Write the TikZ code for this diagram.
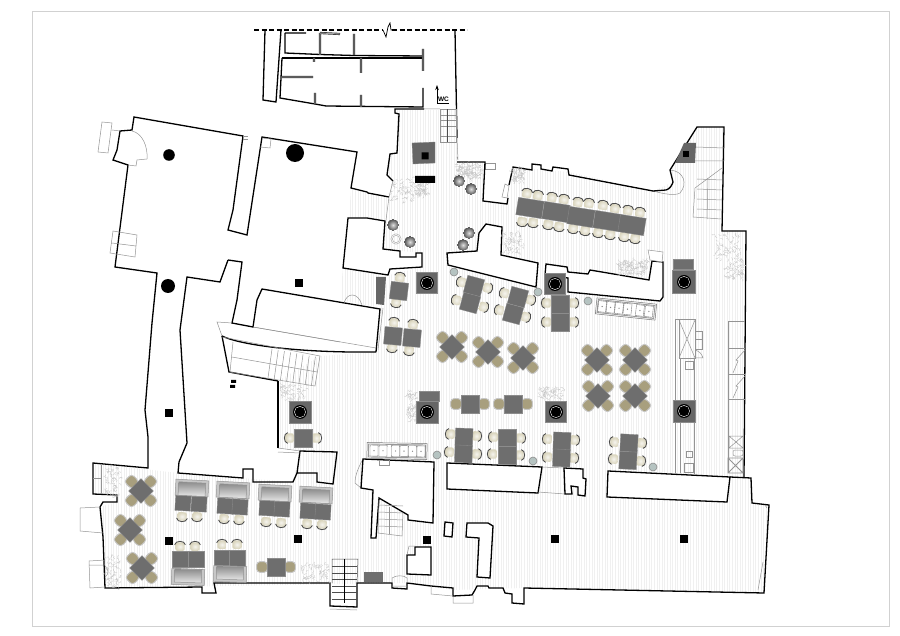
\documentclass[tikz,border=0pt]{standalone}
\usepackage{fontspec}
\setsansfont{Liberation Sans}
\usepackage{tikz}
\usetikzlibrary{arrows.meta,shadings}
\definecolor{tabledark}{HTML}{6E6E6E}
\definecolor{pillardark}{HTML}{666666}
\definecolor{tanseat}{HTML}{A89F7E}
\definecolor{creamseat}{HTML}{D9D4BC}
\definecolor{tealball}{HTML}{B5C3C1}
\tikzset{
  wall/.style={line width=1.3pt,line join=miter},
  roomwall/.style={wall,fill=white},
  thin gray/.style={line width=.5pt,draw=black!42},
  partition/.style={line width=2.2pt,draw=black!80},
  partition core/.style={line width=.9pt,draw=black!35},
  tablebox/.style={draw=black!45,line width=.3pt,fill=tabledark,inner sep=0pt,minimum width=#1,minimum height=#1},
  tablebox/.default=17,
  creamchair/.pic={
    \shade[inner color=creamseat!25!white,outer color=creamseat,rounded corners=2pt] (-4.7,-3.7) rectangle (4.7,4.8);
    \draw[line width=.85pt,draw=black!70] (-5.4,-1.2) .. controls (-4.7,-5.8) and (4.7,-5.8) .. (5.4,-1.2);
  },
  tanchair/.pic={
    \fill[tanseat,draw=black!22,line width=.9pt,rounded corners=3.5pt] (-5.4,-5.4) rectangle (5.4,5.4);
  },
  crosstable/.pic={
    \foreach \a in {45,135,225,315}
      \pic[rotate=\a] at (\a:13.4) {tanchair};
    \fill[tabledark,draw=black!45,line width=.3pt,rotate=45] (-8.7,-8.7) rectangle (8.7,8.7);
  },
  sofa/.pic={
    \draw[thin gray,fill=black!22] (-16.5,-8) rectangle (16.5,8);
    \shade[top color=black!45,bottom color=black!10] (-13.5,-5.5) rectangle (13.5,7.5);
    \draw[thin gray] (-13.5,-5.5) rectangle (13.5,8);
  },
  pillar/.pic={
    \fill[pillardark,draw=black!45,line width=.3pt] (-#1,-#1) rectangle (#1,#1);
    \fill[black] (0,0) circle (7);
    \draw[white,line width=.4pt] (0,0) circle (5.6);
    \fill[black,rounded corners=1pt] (-4,-4) rectangle (4,4);
  },
  pillar/.default=10.5,
  barcounter/.pic={
    \draw[line width=.5pt,draw=black!55,fill=white] (-30,-8) rectangle (30,8);
    \draw[line width=.9pt,draw=black!40] (-28.5,-6.5) rectangle (28.5,6.5);
    \foreach \c in {-24,-15.5,-7,1.5,14,23}{
      \draw[line width=.35pt,draw=black!55] (\c-4,-5.5) rectangle (\c+4,5.5);
      \fill[black!50] (\c,0) circle (.7);
    }
  }
}
\newcommand{\plantpatch}[4]{%
  \foreach \i in {1,...,70}{
    \pgfmathsetmacro{\px}{#1+rand*#3/2}
    \pgfmathsetmacro{\py}{#2+rand*#4/2}
    \pgfmathsetmacro{\pa}{rnd*360}
    \draw[line width=.25pt,black!24] (\px,\py) -- ++(\pa:2.2) -- ++(\pa+70:1.4);
  }
}
\begin{document}
\begin{tikzpicture}[x=1pt,y=-1pt]
  \useasboundingbox (0,0) rectangle (900,636);
  \pgfmathsetseed{7}
  \draw[line width=.4pt,black!18] (32,11) rectangle (889,626);
  % Floor hatching
  \begin{scope}
    \clip (395,110) -- (457,110) -- (457,162) -- (485,162) -- (483,201) -- (507,204) -- (513,167)
      -- (569,172) -- (653,191) -- (673,182) -- (670,170) -- (697,127) -- (724,127) -- (722,231)
      -- (746,231) -- (744,477) -- (752,478) -- (752,503) -- (769,505) -- (764,593) -- (524,588)
      -- (453,590) -- (407,583) -- (105,588) -- (103,537) -- (100,507) -- (117,502) -- (117,495)
      -- (93,494) -- (93,463) -- (178,473) -- (293,482) -- (300,451) -- (278,448) -- (278,381)
      -- (320,356) -- (376,352) -- (380,309) -- (389,275) -- (422,267) -- (422,253) -- (383,249)
      -- (386,220) -- (393,181) -- (387,175) -- (390,154) -- (397,153) -- cycle
      (351,189) -- (389,197) -- (386,220) -- (349,218) -- cycle
      (343,268) -- (380,274) -- (376,307) -- (340,300) -- cycle;
    \foreach \x in {90,92.6,...,772}
      \draw[line width=.3pt,black!6] (\x,100) -- (\x,610);
  \end{scope}
  % Top block with the WC
  \draw[wall,dashed,dash pattern=on 5pt off 2.5pt] (254,30) -- (383,30) (392,30) -- (467,30);
  \draw[line width=.7pt] (383,30) -- (386,37) -- (388,27) -- (390,23) -- (391,30) -- (392,30);
  \draw[wall] (265,30) -- (263,100) -- (276,102) -- (281,30);
  \draw[wall] (455,30) -- (457,138);
  \draw[wall] (285,33) -- (306,33) (285,33) -- (285,53) -- (320,54.5) -- (354,55.5) -- (423,56);
  \draw[wall] (282,58) -- (423,58);
  \draw[wall] (282,58) -- (280,98) -- (315,104) -- (326,106) -- (423,107) -- (423,88);
  \foreach \linepath in {partition,partition core}
    \draw[\linepath] (320,33) -- (320,55) (320,33) -- (340,34) (354,34) -- (354,55)
      (423,49) -- (423,71) (361,58) -- (361,73) (282,77) -- (313,77)
      (361,95) -- (361,107) (315,93) -- (315,104) (314,58) -- (314,62);
  \draw[-{Stealth[length=5pt,width=3.5pt]},line width=.7pt] (437,96) -- (437,85);
  \draw[line width=.5pt] (437,96) -- (437,103) -- (449,103);
  \node[font=\sffamily\bfseries\fontsize{6.5}{7}\selectfont,inner sep=0pt] (wc) at (443.5,99) {WC};
  % Stair up to the WC
  \draw[thin gray] (440,109) rectangle (456,142);
  \foreach \y in {115,120,126,136}
    \draw[thin gray] (440,\y) -- (456,\y);
  \draw[line width=.5pt,black!70] (447,142) -- (447,109);
  \draw[thin gray] (424,109) -- (440,109) (457,138) -- (458,160) (458,160) -- (457,157);
  % Outer wall, upper right and round to the left rooms
  \draw[wall] (424,109) -- (395,109) -- (395,113) -- (399,114) -- (397,153) -- (390,154) -- (387,175) -- (393,181);
  \draw[thin gray,fill=white] (485,163) rectangle (495,169);
  \draw[thin gray,fill=white] (502,197) -- (505,184) -- (509,186) -- (507,198) -- cycle;
  \draw[wall] (457,162) -- (485,162) -- (483,201) -- (507,204) -- (508,198);
  \draw[thin gray] (670,170) .. controls (684,171) and (688,184) .. (680,193) .. controls (675,196) and (664,194) .. (653,191);
  \draw[wall] (509,185) -- (513,167) -- (532,170) -- (532,164) -- (541,165) -- (541,169) -- (552,171) -- (553,167) -- (568,169) -- (569,175) -- (653,191)
    -- (666,190) .. controls (670,189) and (672,185) .. (673,182) -- (670,170) -- (697,127) -- (724,127) -- (722,231) -- (746,231) -- (744,477);
  % Outer wall along the bottom
  \draw[wall] (730,477) -- (751,478) -- (752,503) -- (769,505) -- (764,593) -- (524,588) -- (524,604) -- (512,603) -- (512,594) -- (505,593) -- (503,588)
    -- (489,588) -- (488,586) -- (477,586) -- (475,590) -- (472,595) -- (453,596) -- (453,588) -- (431,586) -- (407,583) -- (407,589) -- (392,588)
    -- (392,583) -- (357,583) -- (357,607) -- (330,606) -- (330,583) -- (214,583) -- (216,593) -- (202,593) -- (202,587) -- (105,588) -- (103,537)
    -- (100,507) -- (103,502) -- (117,502) -- (117,495) -- (93,494) -- (93,463) -- (148,468) -- (148,437) -- (145,410) -- (152,323) -- (157,273)
    -- (115,267) -- (128,165) -- (113,160) -- (117,150) -- (120,131) -- (132,130) -- (134,117) -- (243,136) -- (233,210) -- (228,230) -- (247,235)
    -- (262,137) -- (357,152) -- (351,188) -- (367,192) -- (368,193) -- (389,197);
  \draw[thin gray] (386,220) -- (389,197) -- (393,181);
  \draw[wall] (228,260) -- (242,262) -- (237,300) -- (232,323) -- (253,327) -- (257,300) -- (262,289) -- (380,309) -- (376,352);
  \draw[wall] (228,260) -- (220,282) -- (187,277) -- (180,330) -- (187,443) -- (179,462) -- (178,473) -- (243,478) -- (243,469) -- (253,469) -- (253,482)
    -- (293,482) -- (297,473) -- (300,451) -- (337,452) -- (333,484) -- (317,482) -- (317,473) -- (297,473);
  \draw[wall] (278,381) -- (278,448);
  \draw[thin gray] (278,448) -- (300,451) (278,452) -- (300,453);
  % Gray details on the left rooms
  \draw[thin gray] (102,122) -- (112,123) -- (108,153) -- (98,152) -- cycle (112,130) -- (120,131);
  \draw[thin gray] (132,131) .. controls (142,133) and (148,146) .. (147,159) -- (137,160) -- (136,166) -- (128,165);
  \draw[thin gray] (113,231) -- (137,235) -- (135,257) -- (110,253) -- cycle (112,243) -- (136,246);
  \draw[thin gray] (243,136) -- (248,136) (243,139) -- (248,139);
  \draw[thin gray] (262,138) -- (271,139) -- (270,148) -- (260,147);
  \fill (169,155) circle (5.8) (295,153) circle (9) (168,286) circle (7);
  % Hall with the stair going down
  \draw[thin gray] (222,336) -- (217,322) -- (232,323) (253,327) -- (340,342);
  \draw[thin gray] (253,327) -- (376,348) (383,308) -- (378,350);
  \draw[thin gray] (344,303) .. controls (347,292) and (358,292) .. (362,305);
  \draw[wall] (222,336) .. controls (240,345) and (300,353) .. (376,352);
  \draw[wall] (222,336) -- (229,372) -- (278,381);
  \draw[thin gray] (222,337) -- (320,356) -- (315,386) -- (229,372);
  \draw[thin gray] (233,342) -- (230,372) (232,357) -- (317,372);
  \foreach \t in {0,...,7}
    \draw[thin gray] (272+\t*6.2,349+\t*1.1) -- (268+\t*6.2,378+\t*1.1);
  \fill (231,380) rectangle (236,383) (230,385) rectangle (235,388);
  \fill[pillardark] (376,277) -- (386,277) -- (384,305) -- (376,304) -- cycle;
  % Rooms and benches inside the floor
  \draw[roomwall] (348,218) -- (367,218) -- (385,221) -- (383,249) -- (400,251) -- (400,257) -- (416,257) -- (416,253) -- (422,253) -- (422,267) -- (390,269) -- (388,275) -- (343,268) -- cycle;
  \draw[roomwall] (447,253) -- (477,251) -- (479,233) -- (486,224) -- (502,227) -- (501,255) -- (538,263) -- (536,287) -- (448,265) -- cycle;
  \draw[roomwall] (546,264) -- (567,267) -- (568,272) -- (588,274) -- (590,270) -- (649,280) -- (652,261) -- (663,262) -- (663,297) -- (660,301) -- (568,292) -- (568,278) -- (545,275) -- cycle;
  \draw[thin gray,fill=white] (648,250) -- (663,252) -- (662,262) -- (650,260) -- cycle;
  \draw[roomwall] (447,463) -- (542,467) -- (538,493) -- (447,489) -- cycle;
  \draw[thin gray] (542,467) -- (564,468) (538,492) -- (565,494);
  \draw[roomwall] (564,468) -- (583,469) -- (583,478) -- (586,479) -- (585,496) -- (578,495) -- (578,487) -- (571,486) -- (572,494) -- (565,494) -- cycle;
  \draw[roomwall] (608,471) -- (730,477) -- (727,502) -- (607,497) -- cycle;
  \draw[thin gray] (363,459) .. controls (358,468) and (355,476) .. (355,483) -- (361,488);
  \draw[roomwall] (363,459) -- (434,462) -- (433,523) -- (408,520) -- (408,515) -- (379,498) -- (376,538) -- (371,538) -- (373,490) -- (361,488) -- cycle;
  \draw[thin gray] (379,460) -- (379,465) -- (389,465) -- (389,460);
  \draw[thin gray] (379,500) -- (378,533) -- (402,536) -- (403,513);
  \foreach \y in {505,512,519,526}
    \draw[thin gray] (379,\y) -- (403,\y+1);
  \draw[thin gray] (389,507) -- (389,534);
  \draw[roomwall] (445,522) -- (453,523) -- (452,537) -- (444,536) -- cycle;
  \draw[roomwall] (467,523) -- (488,523) -- (493,526) -- (490,578) -- (477,577) -- (479,538) -- (466,537) -- cycle;
  \draw[roomwall] (415,547) -- (431,547) -- (431,575) -- (407,574) -- (407,555) -- (415,555) -- cycle;
  \draw[thin gray] (407,555) -- (409,546) -- (415,546);
  \fill[tabledark] (364,572) rectangle (383,582);
  % Stairs
  \draw[thin gray] (696,147) -- (724,148) (695,161) -- (724,161);
  \draw[thin gray] (722,168) -- (695,188) -- (693,217) -- (721,219);
  \foreach \y in {178,188,198,208}
    \draw[thin gray] (697,\y+1) -- (722,\y+2);
  \draw[thin gray] (708,178) -- (707,219);
  \foreach \y in {566,573,579,586,592,599}
    \draw[thin gray,black!70] (332,\y) -- (357,\y);
  \draw[thin gray,black!70] (332,583) -- (332,559) -- (358,559) -- (357,583);
  \draw[line width=.5pt] (344,559) -- (344,603);
  \draw[thin gray] (330,609) -- (357,610);
  \draw[thin gray] (101,465) -- (101,494) (93,478) -- (101,478);
  % Gray outlines at the wall edges
  \draw[thin gray] (100,507) -- (80,508) -- (80,531) -- (103,533);
  \draw[thin gray] (105,560) -- (89,561) -- (90,588) -- (105,587) (89,565) -- (105,565);
  \draw[thin gray] (105,566) .. controls (109,570) and (109,574) .. (105,577);
  \draw[thin gray] (431,586) -- (431,594) -- (453,596) (453,597) -- (453,603) -- (473,603) -- (473,595);
  \draw[thin gray] (763,562) -- (758,590) (765,505) -- (767,508);
  \draw[thin gray] (392,583) -- (392,578) .. controls (396,575) and (404,575) .. (407,578) -- (407,583) (392,586) -- (407,586);
  % Kitchen strip on the right
  \draw[thin gray] (675,319) -- (675,473) (680.5,358) -- (680.5,400) (680.5,422) -- (680.5,473) (694,358) -- (694,474);
  \draw[thin gray] (675,319) -- (695,319) -- (695,358) -- (679,358) -- (679,320);
  \draw[thin gray] (679,320) -- (695,358) (695,320) -- (679,358);
  \draw[thin gray] (695,331) rectangle (702,339) (695,339) rectangle (702,349);
  \draw[thin gray] (695,358) -- (703,358) .. controls (702,354) and (699,351) .. (695,350);
  \draw[thin gray] (685,361) rectangle (693,369) (686,451) rectangle (692,457) (684,463) rectangle (693,472);
  \draw[thin gray] (728,321) -- (745,321) (728,321) -- (728,473) (728,348) -- (745,348) (728,399) -- (745,399) (728,374) -- (745,374);
  \draw[thin gray] (733,373) -- (738,361) -- (736,360) -- (745,350) (733,398) -- (738,387) -- (736,386) -- (745,376);
  \draw[thin gray] (729,436) rectangle (743,448) (729,436) -- (743,448) (743,436) -- (729,448);
  \draw[thin gray,rounded corners=2pt] (733,450) rectangle (743,456);
  \draw[thin gray,line width=.9pt] (728,458) rectangle (743,473) (728,458) -- (743,473) (743,458) -- (728,473);
  % Planting
  \foreach \x/\y/\w/\h in {403/190/24/24,422/190/11/12,463/170/13/13,475/172/14/14,518/175/12/13,
    513/243/21/21,625/268/14/13,640/268/15/15,728/247/27/26,735/270/18/18,293/392/26/15,
    412/407/11/30,552/393/25/13,112/482/15/30,113/572/16/30,315/573/27/17}
    \plantpatch{\x}{\y}{\w}{\h}
  % Round columns
  \foreach \x/\y in {459/181,471/189,393/225,410/242,469/233,463/245}
    \shade[inner color=black!12,outer color=black!65] (\x,\y) circle (5.4);
  \draw[thin gray,black!30] (396,239) circle (5.2) (396,239) circle (3.6);
  \foreach \x/\y in {454/272,538/292,588/301,437/455,533/461,653/467}
    \draw[fill=tealball,draw=black!45,line width=.6pt] (\x,\y) circle (4);
  % Square columns
  \foreach \x/\y in {169/413,299/283,169/541,298/539,427/540,555/539,684/539}
    \fill (\x-3.7,\y-3.7) rectangle (\x+3.7,\y+3.7);
  \fill[pillardark,draw=black!45,line width=.3pt] (412,143) -- (435,142) -- (435,163) -- (413,164) -- cycle;
  \fill (421.5,152.5) rectangle (428.5,159.5) (415,176) rectangle (435,183);
  \fill[pillardark] (684,143) -- (696,143) -- (695,163) -- (675,163) -- cycle;
  \fill (683,151) rectangle (689,157);
  \node[tablebox=10,minimum width=20] (topbox1) at (429,396) {};
  \node[tablebox=10,minimum width=20] (topbox2) at (683,264.5) {};
  \foreach \x/\y/\s in {427/283/10.5,300/412/11,427/412/11,556/412/10.5,684/411/11,555/284/10.5,684/282/11.5}
    \pic at (\x,\y) {pillar=\s};
  % Counters
  \pic[rotate=-6] at (626,309) {barcounter};
  \pic[rotate=179] at (397,451) {barcounter};
  % Long table
  \foreach \x/\y in {527/193,538/195,552/197,564/199,578/202,589/203,603/205,615/208,628/210,640/212}
    \pic[rotate=-9] at (\x,\y) {creamchair};
  \foreach \x/\y in {522/222,533/223,548/225,559/227,573/229,585/231,598/233,610/235,624/237,635/239}
    \pic[rotate=171] at (\x,\y) {creamchair};
  \foreach \x/\y [count=\i] in {530/208,556/212,581/217,607/221,632/225}
    \node[tablebox,minimum width=26,minimum height=17.5,rotate=-9] (long\i) at (\x,\y) {};
  % Cream chairs round the tables
  \foreach \x/\y/\r in {400/277/-7,396/303/173,394/322/-5,413/324/-5,392/348/175,409/351/175,
    461/282/75,456/300/75,488/288/-105,484/307/-105,504/293/75,499/310/75,531/300/-105,526/317/-105,
    546/303/90,546/322/90,574/303/-90,574/322/-90,289/438/90,317/438/-90,
    450/434/88,449/452/88,477/436/-92,477/454/-92,493/437/90,492/454/90,521/438/-90,520/455/-90,
    547/439/88,547/457/88,575/440/-92,574/458/-92,614/442/87,613/459/87,642/443/-93,641/461/-93,
    182/517/177,197/517/177,224/519/177,239/520/177,266/522/177,281/523/177,307/524/177,322/525/177,
    180/546/0,195/546/0,222/544/0,237/544/0}
    \pic[rotate=\r] at (\x,\y) {creamchair};
  % Tan chairs with a table between
  \foreach \x/\y in {456/404,484/404,499/404,527/404,262/567,290/567}
    \pic at (\x,\y) {tanchair};
  % Tables
  \foreach \x/\y/\r [count=\i] in {399/291/-7,393/336/-5,412/338/-5,474/286/-15,470/303/-15,518/297/-15,513/314/-15,
    560/304/0,560/322/0,303/438/0,470/404/0,513/404/0,276/567/0,
    464/437/-2,463.5/454/-2,507/438/0,507/455/0,562/441/-2,561.5/458/-2,629/443/-3,628/460.5/-3}
    \node[tablebox=17.5,rotate=\r] (tb\i) at (\x,\y) {};
  \foreach \x/\y/\r [count=\i] in {183/503/-3,199/504/-3,225/506/-3,240/507/-3,267/508/-3,282/509/-3,308/511/-3,323/512/-3,
    180/559/0,196/559/0,222/558/0,237/558/0}
    \node[tablebox=15.5,rotate=\r] (sofatb\i) at (\x,\y) {};
  % Sofas
  \foreach \x/\y/\r in {192/488/-3,233/490/-3,275/493/-3,316/495/-3,188/577/178,230/574/178}
    \pic[rotate=\r] at (\x,\y) {sofa};
  % Square tables set across
  \foreach \x/\y in {141/491,130/530,142/568,452/347,488/352,523/358,597/360,635/360,598/396,635/396}
    \pic at (\x,\y) {crosstable};
\end{tikzpicture}
\end{document}
